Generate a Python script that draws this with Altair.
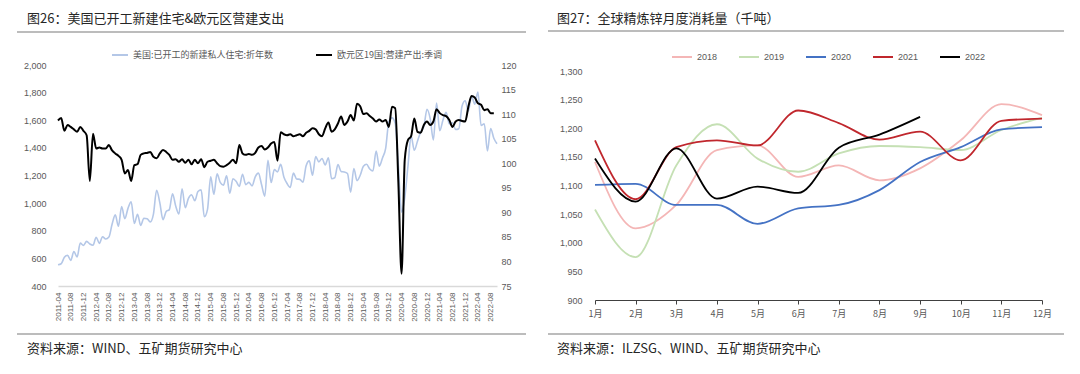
import altair as alt
import pandas as pd

# ---------------- data: left panel ----------------
# US housing starts (SAAR, thousands), monthly from 2011-04 to 2022-10
us_starts = [
    554, 561, 608, 623, 585, 650, 610, 711, 694,
    723, 704, 695, 753, 708, 757, 740, 754, 847, 915, 833, 976,
    888, 962, 1010, 853, 919, 839, 891, 887, 864, 921, 1093, 1004,
    880, 939, 953, 1068, 979, 921, 1104, 967, 1034, 1061, 1017, 1084,
    1096, 901, 955, 1190, 1064, 1212, 1150, 1130, 1197, 1071, 1177, 1158,
    1121, 1209, 1134, 1150, 1125, 1190, 1217, 1133, 1051, 1310, 1149, 1243,
    1226, 1281, 1190, 1142, 1114, 1217, 1175, 1172, 1151, 1271, 1306, 1202,
    1337, 1299, 1323, 1276, 1329, 1177, 1184, 1280, 1229, 1226, 1214, 1080,
    1251, 1163, 1202, 1267, 1281, 1247, 1233, 1377, 1268, 1327, 1396, 1589,
    1617, 1578, 1269, 934, 1038, 1265, 1487, 1383, 1448, 1515, 1552, 1680,
    1612, 1457, 1725, 1524, 1600, 1657, 1573, 1582, 1533, 1539, 1702, 1741,
    1666, 1777, 1716, 1805, 1562, 1575, 1377, 1540, 1470, 1430,
]
# Euro area construction output index (s.a.), monthly from 2011-04 to 2022-09
ea_construction = [
    108.7, 109.2, 106.6, 107.8, 107.4, 106.9, 106.4, 107.4, 106.6, 105.7,
    96.4, 106.0, 103.0, 103.2, 103.0, 103.0, 103.7, 102.6, 102.0, 101.5,
    100.7, 97.9, 98.6, 96.4, 99.6, 99.8, 101.7, 102.0, 102.1, 102.3,
    101.3, 101.0, 102.0, 102.7, 102.3, 101.7, 100.7, 100.8, 100.3, 100.8,
    100.1, 100.7, 99.8, 100.7, 100.0, 100.8, 99.2, 100.3, 100.5, 100.7,
    100.0, 99.4, 99.3, 99.6, 100.1, 100.7, 100.0, 103.7, 102.0, 101.7,
    101.9, 101.7, 102.1, 103.2, 103.5, 102.8, 103.2, 104.0, 104.3, 100.5,
    106.3, 105.9, 105.7, 105.9, 105.5, 105.7, 105.9, 105.5, 106.2, 106.6,
    107.1, 106.9, 105.9, 105.5, 107.1, 108.3, 106.4, 106.9, 108.1, 109.5,
    107.8, 108.5, 109.8, 108.7, 112.1, 111.6, 110.0, 110.2, 109.6, 109.1,
    108.5, 108.9, 108.5, 108.8, 107.4, 111.5, 111.2, 96.0, 77.5, 100.7,
    104.7, 105.5, 109.1, 106.4, 106.2, 107.8, 108.5, 107.8, 108.5, 111.0,
    110.2, 109.8, 109.6, 108.8, 107.4, 108.5, 108.8, 108.6, 108.5, 111.5,
    113.7, 113.4, 112.2, 111.9, 110.8, 111.0, 110.2, 110.2,
]
blue_name = "美国:已开工的新建私人住宅:折年数"
black_name = "欧元区19国:营建产出:季调"
left_ticks = list(range(400, 2001, 200))
right_ticks = list(range(75, 121, 5))

# ---------------- data: right panel ----------------
years = ["2018", "2019", "2020", "2021", "2022"]
zinc_2018 = [1141, 1025, 1066, 1162, 1170, 1115, 1135, 1109, 1130, 1179, 1242, 1223]
zinc_2019 = [1058, 975, 1135, 1207, 1147, 1124, 1156, 1169, 1167, 1162, 1197, 1218]
zinc_2020 = [1101, 1103, 1066, 1066, 1033, 1060, 1066, 1092, 1141, 1167, 1198, 1202]
zinc_2021 = [1179, 1076, 1167, 1179, 1170, 1231, 1209, 1180, 1194, 1144, 1213, 1217]
zinc_2022 = [1147, 1072, 1165, 1077, 1098, 1087, 1166, 1189, 1220]
zinc_ticks = list(range(900, 1301, 50))

FONT = "Liberation Sans, Noto Sans CJK SC, sans-serif"
CJK = "Noto Sans CJK SC, sans-serif"
LBL = "#595959"
TXT = "#262626"
SEP = "#a6a6a6"

rows = [{"m": i, "v": v, "s": blue_name} for i, v in enumerate(us_starts)]
rows += [{"m": i, "v": v, "s": black_name} for i, v in enumerate(ea_construction)]
df_l = pd.DataFrame(rows)

rows_r = []
for y, vals in zip(years, [zinc_2018, zinc_2019, zinc_2020, zinc_2021, zinc_2022]):
    for i, v in enumerate(vals):
        rows_r.append({"month": i + 1, "value": v, "year": y})
df_r = pd.DataFrame(rows_r)

one = pd.DataFrame({"k": [0]})


def text_layer(txt, x, y, size=13, color=TXT):
    return alt.Chart(one).mark_text(
        text=txt, align="left", baseline="middle", fontSize=size, font=CJK, color=color
    ).encode(x=alt.value(x), y=alt.value(y))


def hrule(x1, x2, y):
    return alt.Chart(one).mark_rule(color=SEP, strokeWidth=1.5).encode(
        x=alt.value(x1), x2=alt.value(x2), y=alt.value(y)
    )


# ---------------- left panel ----------------
LW, LH = 439, 221
label_expr = (
    "(2011 + floor((datum.value + 3) / 12)) + '-' + "
    "((((datum.value + 3) % 12) + 1) < 10 ? '0' : '') + (((datum.value + 3) % 12) + 1)"
)
x_l = alt.X(
    "m:Q",
    scale=alt.Scale(domain=[0, 138], nice=False, zero=False),
    axis=alt.Axis(
        values=list(range(0, 137, 4)), labelExpr=label_expr, labelAngle=-90,
        labelFontSize=8, labelColor=LBL, labelFont=FONT, ticks=False,
        domainColor="#d9d9d9", domainWidth=1.5, grid=False, title=None, labelPadding=6,
        labelFlush=False, labelOverlap=False,
    ),
)
color_l = alt.Color(
    "s:N",
    scale=alt.Scale(domain=[blue_name, black_name], range=["#b4c7e7", "#000000"]),
    legend=alt.Legend(
        title=None, orient="none", legendX=53, legendY=-19, direction="horizontal",
        symbolType="stroke", symbolSize=256, symbolStrokeWidth=2, labelFontSize=9,
        labelFont=CJK, labelColor=LBL, columnPadding=38, labelOffset=4, padding=0,
    ),
)
blue = alt.Chart(df_l).transform_filter(alt.datum.s == blue_name).mark_line(
    strokeWidth=1.6, interpolate="monotone"
).encode(
    x=x_l,
    y=alt.Y(
        "v:Q",
        scale=alt.Scale(domain=[400, 2000], nice=False, zero=False),
        axis=alt.Axis(
            values=left_ticks, format=",.0f", domain=False, ticks=False, grid=False,
            title=None, labelFontSize=9, labelColor=LBL, labelFont=FONT,
            labelPadding=12, labelFlush=False,
        ),
    ),
    color=color_l,
)
black = alt.Chart(df_l).transform_filter(alt.datum.s == black_name).mark_line(
    strokeWidth=2, interpolate="monotone"
).encode(
    x=x_l,
    y=alt.Y(
        "v:Q",
        scale=alt.Scale(domain=[75, 120], nice=False, zero=False),
        axis=alt.Axis(
            orient="right", values=right_ticks, format=".0f", domain=False, ticks=False,
            grid=False, title=None, labelFontSize=9, labelColor=LBL, labelFont=FONT,
            labelPadding=4, labelFlush=False,
        ),
    ),
    color=color_l,
)
left = alt.layer(
    blue, black,
    text_layer("图26：美国已开工新建住宅&欧元区营建支出", -31, -46),
    hrule(-41, 468, -33),
    hrule(-41, 468, 269),
    text_layer("资料来源：WIND、五矿期货研究中心", -31, 284),
).resolve_scale(y="independent").properties(width=LW, height=LH)

# ---------------- right panel ----------------
RW, RH = 447, 235
right_lines = alt.Chart(df_r).mark_line(strokeWidth=1.8, interpolate="monotone").encode(
    x=alt.X(
        "month:Q",
        scale=alt.Scale(domain=[1, 12], nice=False, zero=False),
        axis=alt.Axis(
            values=list(range(1, 13)), labelExpr="datum.value + '月'",
            domainColor="#404040", tickColor="#404040", tickSize=4, domainWidth=1.2,
            labelFontSize=9, labelPadding=5, labelColor=LBL, labelFont=CJK,
            grid=False, title=None, labelFlush=False,
        ),
    ),
    y=alt.Y(
        "value:Q",
        scale=alt.Scale(domain=[900, 1310.5], nice=False, zero=False),
        axis=alt.Axis(
            values=zinc_ticks, format=",.0f", domain=False, ticks=False, grid=False,
            title=None, labelFontSize=9, labelColor=LBL, labelFont=FONT,
            labelPadding=13, labelFlush=False,
        ),
    ),
    color=alt.Color(
        "year:N",
        scale=alt.Scale(domain=years, range=["#f4b6b6", "#c5e0b4", "#4472c4", "#c0272d", "#000000"]),
        legend=alt.Legend(
            title=None, orient="none", legendX=76, legendY=-19, direction="horizontal",
            symbolType="stroke", symbolSize=400, symbolStrokeWidth=2, labelFontSize=9,
            labelFont=FONT, labelColor=LBL, columnPadding=17, labelOffset=4, padding=0,
        ),
    ),
)
right = alt.layer(
    right_lines,
    text_layer("图27：全球精炼锌月度消耗量（千吨）", -38, -46),
    hrule(-47, 469, -34),
    hrule(-47, 469, 269),
    text_layer("资料来源：ILZSG、WIND、五矿期货研究中心", -38, 284),
).properties(width=RW, height=RH)

chart = (
    alt.hconcat(left, right, spacing=20)
    .resolve_scale(color="independent")
    .properties(padding={"left": 8, "top": 5, "right": 0, "bottom": 0}, background="white")
    .configure_view(stroke=None)
)

chart.save("out.html", embed_options={"renderer": "svg", "actions": False})
